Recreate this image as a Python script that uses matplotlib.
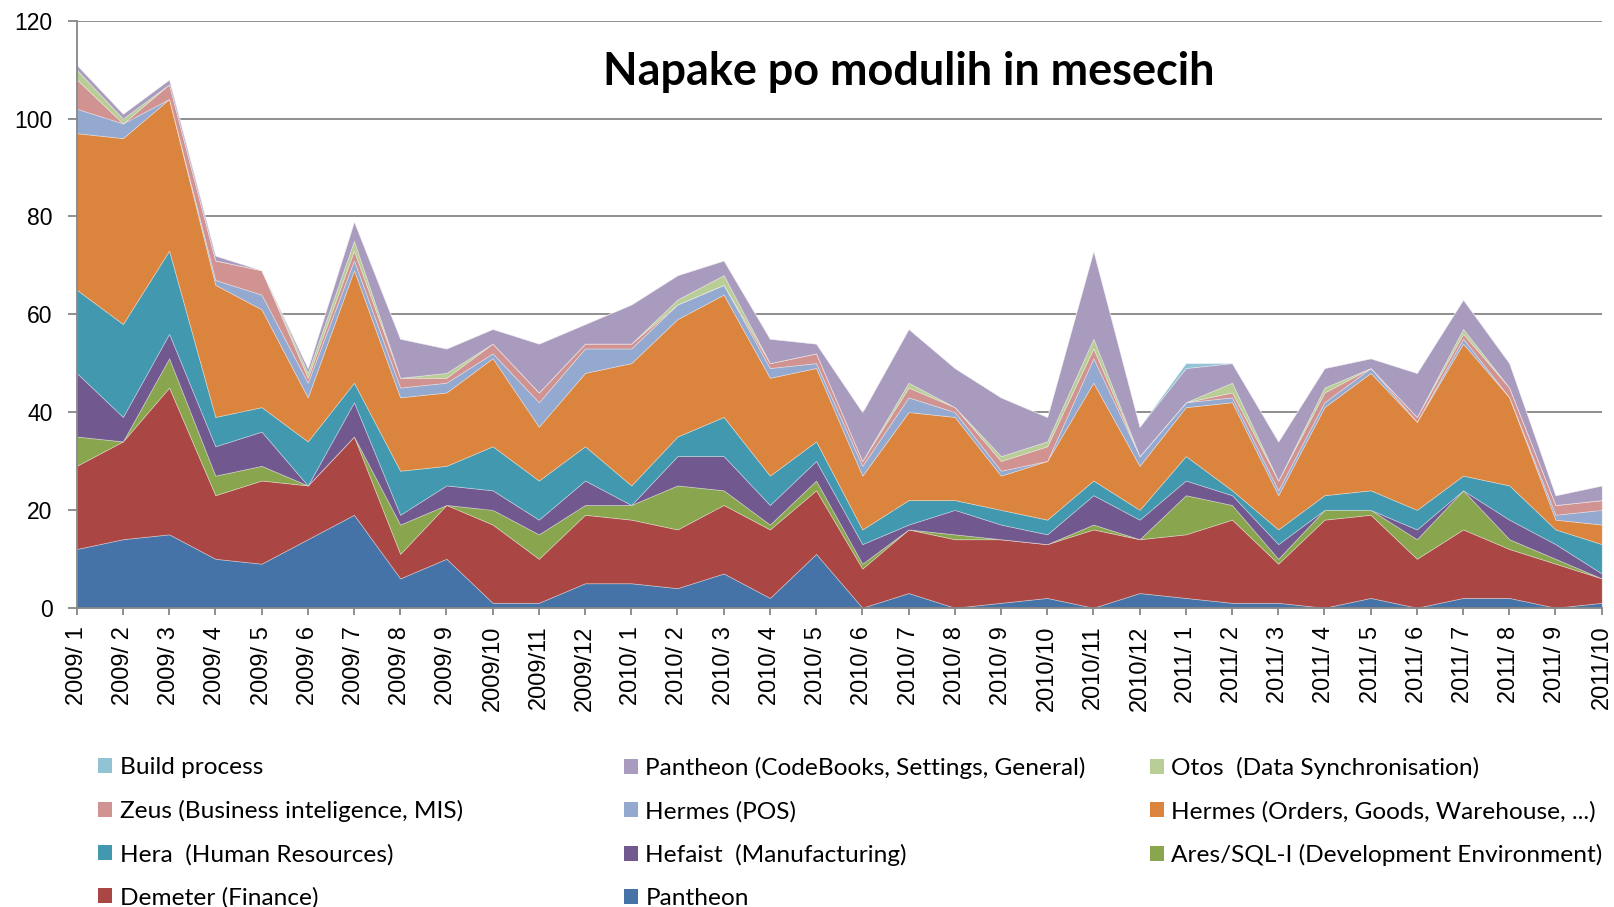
import matplotlib
matplotlib.use("Agg")
import matplotlib.pyplot as plt
from matplotlib.patches import Patch
from matplotlib import font_manager
import numpy as np

# months on the x axis
months = ["2009/ 1", "2009/ 2", "2009/ 3", "2009/ 4", "2009/ 5", "2009/ 6",
          "2009/ 7", "2009/ 8", "2009/ 9", "2009/10", "2009/11", "2009/12",
          "2010/ 1", "2010/ 2", "2010/ 3", "2010/ 4", "2010/ 5", "2010/ 6",
          "2010/ 7", "2010/ 8", "2010/ 9", "2010/10", "2010/11", "2010/12",
          "2011/ 1", "2011/ 2", "2011/ 3", "2011/ 4", "2011/ 5", "2011/ 6",
          "2011/ 7", "2011/ 8", "2011/ 9", "2011/10"]

# number of bugs per module (stacked bottom -> top)
pantheon = [12, 14, 15, 10, 9, 14, 19, 6, 10, 1, 1, 5, 5, 4, 7, 2, 11,
            0, 3, 0, 1, 2, 0, 3, 2, 1, 1, 0, 2, 0, 2, 2, 0, 1]
demeter = [17, 20, 30, 13, 17, 11, 16, 5, 11, 16, 9, 14, 13, 12, 14, 14, 13,
           8, 13, 14, 13, 11, 16, 11, 13, 17, 8, 18, 17, 10, 14, 10, 9, 5]
ares = [6, 0, 6, 4, 3, 0, 0, 6, 0, 3, 5, 2, 3, 9, 3, 1, 2,
        1, 0, 1, 0, 0, 1, 0, 8, 3, 1, 2, 1, 4, 8, 2, 1, 0]
hefaist = [13, 5, 5, 6, 7, 0, 7, 2, 4, 4, 3, 5, 0, 6, 7, 4, 4,
           4, 1, 5, 3, 2, 6, 4, 3, 2, 3, 0, 0, 2, 0, 4, 3, 1]
hera = [17, 19, 17, 6, 5, 9, 4, 9, 4, 9, 8, 7, 4, 4, 8, 6, 4,
        3, 5, 2, 3, 3, 3, 2, 5, 1, 3, 3, 4, 4, 3, 7, 3, 6]
hermes_orders = [32, 38, 31, 27, 20, 9, 23, 15, 15, 18, 11, 15, 25, 24, 25, 20, 15,
                 11, 18, 17, 7, 12, 20, 9, 10, 18, 7, 18, 24, 18, 27, 18, 2, 4]
hermes_pos = [5, 3, 0, 1, 3, 3, 2, 2, 2, 1, 5, 5, 3, 3, 2, 2, 1,
              2, 3, 1, 1, 0, 5, 2, 1, 1, 1, 1, 1, 0, 1, 0, 1, 3]
zeus = [6, 0, 3, 4, 5, 1, 2, 2, 1, 2, 2, 1, 1, 0, 0, 1, 2,
        1, 2, 1, 2, 3, 2, 0, 0, 1, 2, 2, 0, 1, 1, 2, 2, 2]
otos = [2, 1, 0, 0, 0, 1, 2, 0, 1, 0, 0, 0, 0, 1, 2, 0, 0,
        0, 1, 0, 1, 1, 2, 0, 0, 2, 0, 1, 0, 0, 1, 0, 0, 0]
pantheon_cb = [1, 1, 1, 1, 0, 1, 4, 8, 5, 3, 10, 4, 8, 5, 3, 5, 2,
               10, 11, 8, 12, 5, 18, 6, 7, 4, 8, 4, 2, 9, 6, 5, 2, 3]
build = [0, 0, 0, 0, 0, 0, 0, 0, 0, 0, 0, 0, 0, 0, 0, 0, 0,
         0, 0, 0, 0, 0, 0, 0, 1, 0, 0, 0, 0, 0, 0, 0, 0, 0]

names = ["Pantheon", "Demeter (Finance)", "Ares/SQL-I (Development Environment)",
         "Hefaist  (Manufacturing)", "Hera  (Human Resources)",
         "Hermes (Orders, Goods, Warehouse, ...)", "Hermes (POS)",
         "Zeus (Business inteligence, MIS)", "Otos  (Data Synchronisation)",
         "Pantheon (CodeBooks, Settings, General)", "Build process"]
series = [pantheon, demeter, ares, hefaist, hera, hermes_orders, hermes_pos,
          zeus, otos, pantheon_cb, build]
colors = ["#4572A7", "#AA4643", "#89A54E", "#71588F", "#4198AF", "#DB843D",
          "#93A9CF", "#D19392", "#B9CD96", "#A99BBD", "#92C3D5"]


def pick_font(cands):
    for c in cands:
        try:
            font_manager.findfont(font_manager.FontProperties(family=c),
                                  fallback_to_default=False)
            return c
        except Exception:
            pass
    return "DejaVu Sans"


calib = pick_font(["Lato", "Open Sans", "DejaVu Sans"])
arial = pick_font(["Liberation Sans", "DejaVu Sans"])

W, H = 1614, 907
fig = plt.figure(figsize=(W / 100, H / 100), dpi=100)
ax = fig.add_axes([76.7 / W, 1 - 607.7 / H, (1601.7 - 76.7) / W, (607.7 - 20.7) / H])

x = np.arange(len(months))
ax.stackplot(x, *series, colors=colors, edgecolor=(1, 1, 1, 0.35), linewidth=0.6)

ax.set_xlim(0, len(months) - 1)
ax.set_ylim(0, 120)
ax.set_yticks(range(0, 121, 20))
ax.set_xticks(x)
ax.set_xticklabels(months, rotation=90, fontsize=17, family=arial)
for lab in ax.get_yticklabels():
    lab.set_fontsize(16.5)
    lab.set_family(arial)

grey = "#868686"
ax.set_axisbelow(True)
ax.grid(axis="y", color=grey, linewidth=1.3)
for s in ["top", "right"]:
    ax.spines[s].set_visible(False)
for s in ["left", "bottom"]:
    ax.spines[s].set_color(grey)
    ax.spines[s].set_linewidth(1.3)
    ax.spines[s].set_zorder(5)
ax.tick_params(axis="y", length=6.5, width=1.3, color=grey, pad=11)
ax.tick_params(axis="x", length=5, width=1.3, color=grey, pad=8)

fig.text(908.5 / W, 1 - 85 / H, "Napake po modulih in mesecih",
         ha="center", va="baseline", fontsize=32.4, fontweight="bold", family=calib)

# legend: three columns, same order as Excel draws it
handles = {n: Patch(facecolor=c, edgecolor="none") for n, c in zip(names, colors)}
cols = [["Build process", "Zeus (Business inteligence, MIS)",
         "Hera  (Human Resources)", "Demeter (Finance)"],
        ["Pantheon (CodeBooks, Settings, General)", "Hermes (POS)",
         "Hefaist  (Manufacturing)", "Pantheon"],
        ["Otos  (Data Synchronisation)", "Hermes (Orders, Goods, Warehouse, ...)",
         "Ares/SQL-I (Development Environment)"]]
col_x = [98.3, 623.8, 1149.8]
for cx, labels in zip(col_x, cols):
    fig.legend([handles[l] for l in labels], labels, loc="upper left",
               bbox_to_anchor=(cx / W, 1 - 757 / H), frameon=False,
               borderpad=0, borderaxespad=0, handlelength=0.58, handleheight=0.58,
               handletextpad=0.3, labelspacing=0.89,
               prop={"family": calib, "size": 17.6})

fig.savefig("out.png", dpi=100)
